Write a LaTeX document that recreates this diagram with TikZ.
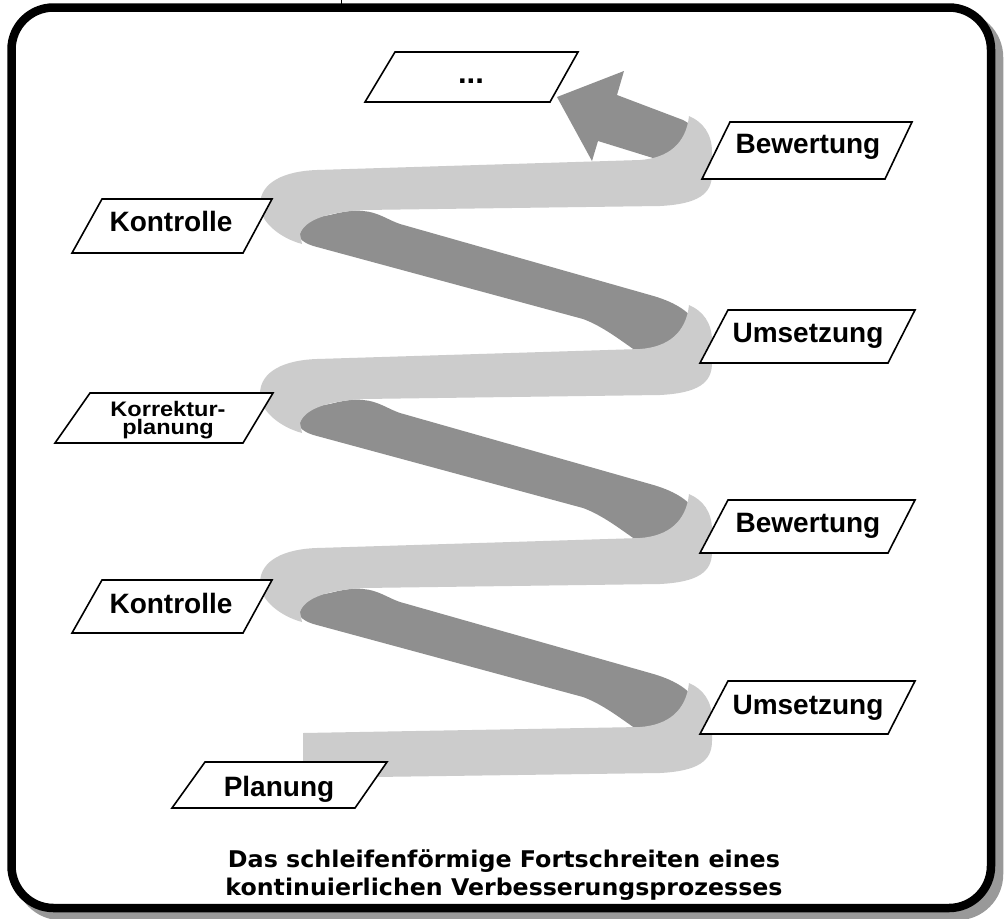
\documentclass[tikz,border=0pt]{standalone}
\usepackage{fontspec}
\setmainfont{Liberation Sans}
\newfontfamily\capfont{DejaVu Sans}
\usepackage{graphicx}
\definecolor{ribbonlight}{HTML}{CCCCCC}
\definecolor{ribbondark}{HTML}{8F8F8F}
\definecolor{shadowgrey}{HTML}{999999}
\begin{document}
\begin{tikzpicture}[x=1pt,y=-1pt,
  lbl/.style={font=\fontsize{28}{28}\selectfont\bfseries, anchor=base, inner sep=0pt},
  smalllbl/.style={font=\fontsize{21}{21}\selectfont\bfseries, anchor=base, inner sep=0pt},
  caplbl/.style={font=\capfont\bfseries\fontsize{23}{23}\selectfont, anchor=base, inner sep=0pt},
  pbox/.style={draw=black, fill=white, line width=1.6pt, line join=miter},
  lightband/.style={fill=ribbonlight},
  darkband/.style={fill=ribbondark},
  frameline/.style={draw=black, fill=white, line width=8.5pt, rounded corners=42pt},
  frameshadow/.style={fill=shadowgrey, rounded corners=46pt}]
\useasboundingbox (0,0) rectangle (1005,919);

% frame with shadow
\fill[frameshadow] (15.25,11.25) rectangle (1003.25,920.25);
\path[frameline] (11.5,7.5) rectangle (991,908);
\coordinate (tick top) at (341,0);
\coordinate (tick bottom) at (341,4);
\draw[line width=1pt] (tick top) -- (tick bottom);

% dark (back side) bands
\foreach \k in {0,1,2}{
  \begin{scope}[shift={(0,-189*\k)}]
    \fill[darkband] (330,593) .. controls (345,589) and (355,588) .. (363,589)
      .. controls (378,590) and (388,598) .. (400,602) -- (650,673)
      .. controls (672,679) and (688,688) .. (695,700) -- (700,735) -- (645,735)
      .. controls (625,722) and (605,705) .. (583,697) -- (317,625)
      .. controls (305,622) and (298,617) .. (298,610)
      .. controls (298,600) and (315,595) .. (330,593) -- cycle;
  \end{scope}
}
% dark arrow at the top
\fill[darkband] (557,97) -- (624,71) -- (617,95) -- (683,120) -- (700,130) -- (700,170)
  -- (660,170) -- (653,158) -- (598,141) -- (592,161) -- cycle;

% light (front side) bands
\fill[lightband] (303,733) -- (640,727) .. controls (668,725) and (686,711) .. (689,683)
  .. controls (703,689) and (712,701) .. (712,719) -- (712,741)
  .. controls (712,761) and (698,771) .. (660,773) -- (303,778) -- cycle;
\foreach \k in {0,1,2}{
  \begin{scope}[shift={(0,-189*\k)}]
    \fill[lightband] (317,548) -- (640,538) .. controls (668,536) and (686,522) .. (689,494)
      .. controls (703,500) and (712,512) .. (712,530) -- (712,552)
      .. controls (712,572) and (698,582) .. (660,584) -- (363,588)
      .. controls (330,590) and (305,597) .. (300,612) -- (302,622)
      .. controls (280,616) and (260,600) .. (260,583)
      .. controls (260,560) and (285,549) .. (317,548) -- cycle;
  \end{scope}
}

% label boxes
\path[pbox] (395,52) -- (578,52) -- (550,102) -- (365,102) -- cycle;
\node[lbl, font=\fontsize{31}{31}\selectfont\bfseries] (dots) at (471,83) {...};

\path[pbox] (730,122) -- (912,122) -- (885,179) -- (702,179) -- cycle;
\node[lbl] (bew1) at (808,153) {Bewertung};

\path[pbox] (102,199) -- (272,199) -- (243,253) -- (72,253) -- cycle;
\node[lbl] (kon1) at (171,231) {Kontrolle};

\path[pbox] (728,310) -- (915,310) -- (888,363) -- (700,363) -- cycle;
\node[lbl] (ums1) at (808,342) {Umsetzung};

\path[pbox] (90,393) -- (273,393) -- (243,443) -- (55,443) -- cycle;
\node[smalllbl] (korr1) at (168,416) {\scalebox{1.12}[1]{Korrektur-}};
\node[smalllbl] (korr2) at (168,434.5) {\scalebox{1.12}[1]{planung}};

\path[pbox] (728,500) -- (915,500) -- (888,553) -- (700,553) -- cycle;
\node[lbl] (bew2) at (808,532) {Bewertung};

\path[pbox] (102,580) -- (272,580) -- (243,633) -- (72,633) -- cycle;
\node[lbl] (kon2) at (171,613) {Kontrolle};

\path[pbox] (728,681) -- (915,681) -- (888,734) -- (700,734) -- cycle;
\node[lbl] (ums2) at (808,714) {Umsetzung};

\path[pbox] (205,762) -- (387,762) -- (355,808) -- (172,808) -- cycle;
\node[lbl] (plan) at (279,796) {Planung};

% caption
\node[caplbl] (cap1) at (504,867) {\resizebox{552pt}{\height}{Das schleifenförmige Fortschreiten eines}};
\node[caplbl] (cap2) at (504,895) {\resizebox{557pt}{\height}{kontinuierlichen Verbesserungsprozesses}};
\end{tikzpicture}
\end{document}
